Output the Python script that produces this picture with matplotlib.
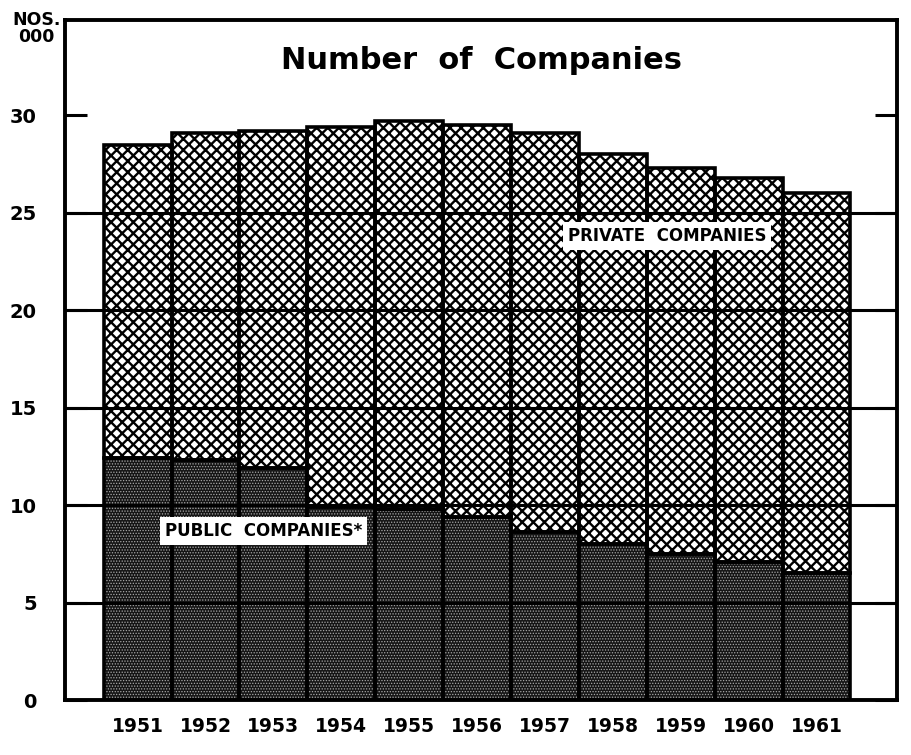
import matplotlib
matplotlib.use('Agg')
import matplotlib.pyplot as plt
import numpy as np

# ---- data (thousands of companies) ----
years = ['1951', '1952', '1953', '1954', '1955', '1956', '1957', '1958', '1959', '1960', '1961']
public_companies = [12.4, 12.3, 11.9, 9.9, 9.8, 9.4, 8.6, 8.0, 7.5, 7.1, 6.5]
private_companies = [16.1, 16.8, 17.3, 19.5, 19.9, 20.1, 20.5, 20.0, 19.8, 19.7, 19.5]
y_ticks = [0, 5, 10, 15, 20, 25, 30]
y_tick_labels = ['0', '5', '10', '15', '20', '25', '30']
grid_levels = [5, 10, 15, 20, 25]

plt.rcParams['font.family'] = ['DejaVu Sans']

fig = plt.figure(figsize=(9.11, 7.55), dpi=100)
ax = fig.add_axes([0.071, 0.0728, 0.914, 0.9007])

x = np.arange(len(years))
public = np.array(public_companies)
private = np.array(private_companies)

# public companies: dark stipple
plt.rcParams['hatch.linewidth'] = 0.6
b1 = ax.bar(x, public, width=1.0, color='#151515', edgecolor='#a8a8a8',
            linewidth=0, hatch='......', zorder=2)
# private companies: cross-hatch
plt.rcParams['hatch.linewidth'] = 1.7
b2 = ax.bar(x, private, bottom=public, width=1.0, color='white', edgecolor='black',
            linewidth=0, hatch='xxx', zorder=2)
for p in b1:
    if hasattr(p, 'set_hatch_linewidth'):
        p.set_hatch_linewidth(0.6)
for p in b2:
    if hasattr(p, 'set_hatch_linewidth'):
        p.set_hatch_linewidth(1.7)

# outlines
ax.bar(x, public, width=1.0, fill=False, edgecolor='black', linewidth=2.6, zorder=4)
ax.bar(x, private, bottom=public, width=1.0, fill=False, edgecolor='black', linewidth=2.6, zorder=4)

ax.set_xlim(-1.075, 11.19)
ax.set_ylim(0, 34.9)

# horizontal rules
ax.hlines(grid_levels, -1.075, 11.19, colors='black', linewidth=2.2, zorder=5)

# axes styling
for s in ax.spines.values():
    s.set_linewidth(2.8)
    s.set_color('black')
    s.set_zorder(6)

ax.set_yticks(y_ticks)
ax.set_yticklabels(y_tick_labels, fontsize=14, fontweight='bold')
ax.tick_params(axis='y', direction='in', length=16, width=2.2, left=True, right=True,
               labelleft=True, labelright=False, pad=20)
ax.set_xticks(x)
ax.set_xticklabels(years, fontsize=13.5, fontweight='bold')
ax.tick_params(axis='x', length=0, pad=12)

# series labels
ax.text(7.8, 23.8, 'PRIVATE  COMPANIES', ha='center', va='center', fontsize=12,
        fontweight='bold', zorder=7,
        bbox=dict(facecolor='white', edgecolor='none', boxstyle='square,pad=0.3'))
ax.text(1.85, 8.67, 'PUBLIC  COMPANIES*', ha='center', va='center', fontsize=12,
        fontweight='bold', zorder=7,
        bbox=dict(facecolor='white', edgecolor='none', boxstyle='square,pad=0.3'))

# title
ax.text(0.5, 0.94, 'Number  of  Companies', transform=ax.transAxes, ha='center', va='center',
        fontsize=22, fontweight='bold', zorder=7)

# unit label
fig.text(0.04, 0.962, 'NOS.\n000', ha='center', va='center', fontsize=12.5,
         fontweight='bold', linespacing=0.95)

fig.savefig('out.png', dpi=100, facecolor='white')
